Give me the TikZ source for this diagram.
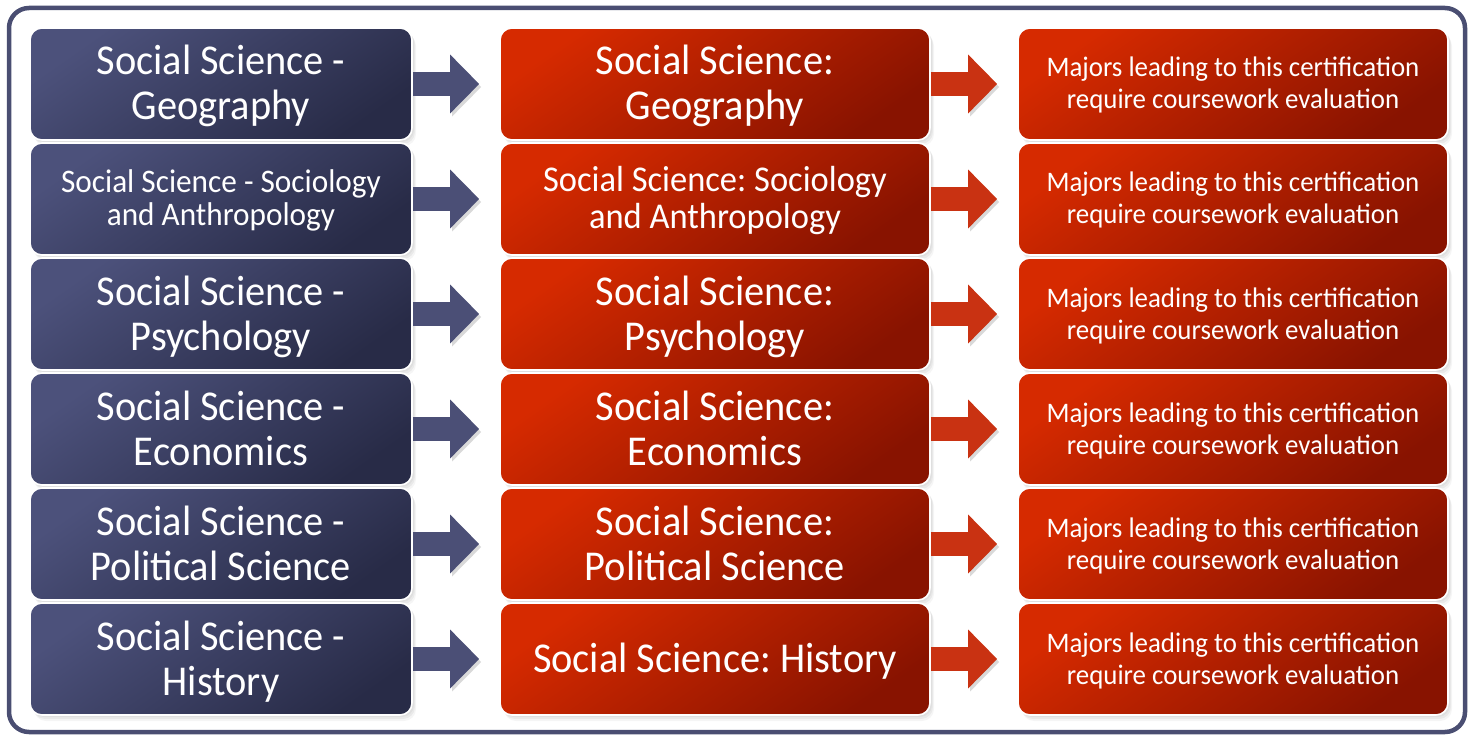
\documentclass[tikz,border=0pt]{standalone}
\usepackage{fontspec}
\setmainfont{Carlito}[FakeStretch=0.95]
\usetikzlibrary{shadows,arrows.meta}
\definecolor{bluetop}{HTML}{4C517B}
\definecolor{bluebot}{HTML}{282B47}
\definecolor{redtop}{HTML}{D62A00}
\definecolor{redbot}{HTML}{881300}
\definecolor{framec}{HTML}{4A4E72}
\definecolor{bluearrow}{HTML}{4B4F76}
\definecolor{redarrow}{HTML}{C93212}
\tikzset{
  softshadow/.style={
    drop shadow={opacity=0.10, shadow xshift=2pt, shadow yshift=-2pt},
    drop shadow={opacity=0.10, shadow xshift=3pt, shadow yshift=-4pt},
    drop shadow={opacity=0.08, shadow xshift=4pt, shadow yshift=-6pt}},
  box/.style={softshadow, draw=white, line width=1.6pt, rounded corners=12pt,
    text=white, align=center, inner sep=0pt, minimum height=112pt},
  bluebox/.style={box, minimum width=382pt, top color=bluetop, bottom color=bluebot, shading angle=35},
  redbox/.style={box, minimum width=430pt, top color=redtop, bottom color=redbot, shading angle=35},
  big/.style={font=\fontsize{42.5}{45}\selectfont, text height=72pt, text depth=0pt},
  bigone/.style={font=\fontsize{42.5}{45}\selectfont, text height=27pt, text depth=0pt},
  mid/.style={font=\fontsize{36.3}{37}\selectfont, text height=60pt, text depth=0pt},
  small/.style={font=\fontsize{32.9}{33}\selectfont, text height=54pt, text depth=0pt},
  note/.style={font=\fontsize{28.3}{32}\selectfont, text height=50pt, text depth=0pt},
  blockarrow/.style={line width=24pt, shorten >=20pt,
    -{Triangle[length=29pt,width=57pt]},
    preaction={draw=black, opacity=0.15, transform canvas={xshift=2pt,yshift=-3pt}}},
}
\begin{document}
\frenchspacing
\begin{tikzpicture}[x=1pt,y=-1pt]
\useasboundingbox (0,0) rectangle (1470,735);
\draw[framec, line width=4.5pt, rounded corners=20pt] (9,8) rectangle (1465,732);
% left column
\node[bluebox, big] (L1) at (221,84) {Social Science -\\Geography};
\node[bluebox, small] (L2) at (221,199) {Social Science - Sociology\\and Anthropology};
\node[bluebox, big] (L3) at (221,314) {Social Science -\\Psychology};
\node[bluebox, big] (L4) at (221,429) {Social Science -\\Economics};
\node[bluebox, big] (L5) at (221,544) {Social Science -\\Political Science};
\node[bluebox, big] (L6) at (221,659) {Social Science -\\History};
% middle column
\node[redbox, big] (M1) at (715,84) {Social Science:\\Geography};
\node[redbox, mid] (M2) at (715,199) {Social Science: Sociology\\and Anthropology};
\node[redbox, big] (M3) at (715,314) {Social Science:\\Psychology};
\node[redbox, big] (M4) at (715,429) {Social Science:\\Economics};
\node[redbox, big] (M5) at (715,544) {Social Science:\\Political Science};
\node[redbox, bigone] (M6) at (715,659) {Social Science: History};
% right column
\foreach \i/\y in {1/84,2/199,3/314,4/429,5/544,6/659}{
  \node[redbox, note] (R\i) at (1233,\y) {Majors leading to this certification\\require coursework evaluation};
}
% arrows
\foreach \i in {1,...,6}{
  \draw[blockarrow, bluearrow] (L\i.east) -- (M\i.west);
  \draw[blockarrow, redarrow] (M\i.east) -- (R\i.west);
}
\end{tikzpicture}
\end{document}
